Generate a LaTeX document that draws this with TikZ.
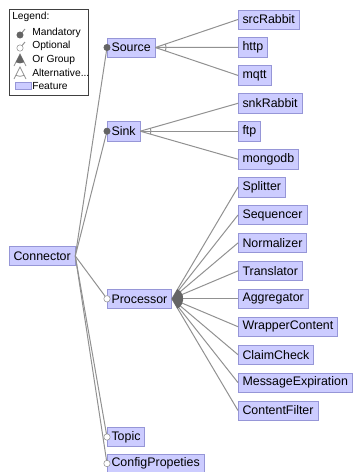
\documentclass[tikz,border=0pt]{standalone}
\usepackage{fontspec}
\setmainfont{Liberation Sans}
\usetikzlibrary{positioning}

\definecolor{featfill}{RGB}{204,204,255}
\definecolor{featline}{RGB}{150,150,215}
\definecolor{linkgray}{RGB}{145,145,145}
\definecolor{dotgray}{RGB}{100,100,100}

\begin{document}
\begin{tikzpicture}[x=0.75pt,y=-0.75pt,
        feature/.style={draw=featline, fill=featfill, anchor=west, minimum height=14.6pt, inner xsep=3.2pt, inner ysep=0pt, font=\fontsize{9.3}{11}\selectfont},
        legtext/.style={anchor=west, inner sep=0pt, font=\fontsize{7.7}{9}\selectfont},
        mand/.style={circle, fill=dotgray, draw=dotgray, inner sep=0pt, minimum size=4.8pt},
        opt/.style={circle, fill=white, draw=linkgray, inner sep=0pt, minimum size=4.8pt},
        link/.style={draw=linkgray, line width=0.75pt}]
        
        \useasboundingbox (0,0) rectangle (353,472);
        
        % legend
        \draw[draw=black!75, line width=0.5pt] (9,9) rectangle (88,95);
        \node[legtext] (legtitle) at (12,17) {Legend:};
        \node[legtext] (lmand) at (32,33) {Mandatory};
        \node[legtext] (lopt) at (32,46) {Optional};
        \node[legtext] (lor) at (32,60) {Or Group};
        \node[legtext] (lalt) at (32,73) {Alternative...};
        \node[legtext] (lfeat) at (32,86) {Feature};
        
        \coordinate (lmandtip) at (25,29);
        \coordinate (lopttip) at (25,42);
        \draw[link] (lmandtip) -- (20,35);
        \node[mand] (lmanddot) at (20,35) {};
        \draw[link] (lopttip) -- (20,48);
        \node[opt] (loptdot) at (20,48) {};
        
        \coordinate (lorapex) at (20,54);
        \coordinate (lorleft) at (14,66);
        \coordinate (lorright) at (26,66);
        \draw[link, line width=0.6pt] (lorleft) -- (lorapex) -- (lorright);
        \fill[dotgray] (lorapex) -- ++(243.4:7pt) arc[start angle=243.4, end angle=296.6, radius=7pt] -- cycle;
        
        \coordinate (laltapex) at (20,67);
        \coordinate (laltleft) at (14,79);
        \coordinate (laltright) at (26,79);
        \draw[link, line width=0.6pt] (laltleft) -- (laltapex) -- (laltright);
        \draw[link, line width=0.6pt] ([shift={(243.4:7pt)}]laltapex) arc[start angle=243.4, end angle=296.6, radius=7pt];
        
        \draw[draw=featline, fill=featfill] (15,82) rectangle (31,89);
        
        % features
        \node[feature] (Connector) at (9,256) {Connector};
        
        \node[feature] (Source) at (107,47.5) {Source};
        \node[feature] (Sink) at (107,131.2) {Sink};
        \node[feature] (Processor) at (107,298.8) {Processor};
        \node[feature] (Topic) at (107,437) {Topic};
        \node[feature] (ConfigPropeties) at (107,463.5) {ConfigPropeties};
        
        \node[feature] (srcRabbit) at (238,19.5) {srcRabbit};
        \node[feature] (http) at (238,47.4) {http};
        \node[feature] (mqtt) at (238,75.4) {mqtt};
        
        \node[feature] (snkRabbit) at (238,103.3) {snkRabbit};
        \node[feature] (ftp) at (238,131.2) {ftp};
        \node[feature] (mongodb) at (238,159.2) {mongodb};
        
        \node[feature] (Splitter) at (238,187.1) {Splitter};
        \node[feature] (Sequencer) at (238,215) {Sequencer};
        \node[feature] (Normalizer) at (238,242.9) {Normalizer};
        \node[feature] (Translator) at (238,270.9) {Translator};
        \node[feature] (Aggregator) at (238,298.8) {Aggregator};
        \node[feature] (WrapperContent) at (238,326.7) {WrapperContent};
        \node[feature] (ClaimCheck) at (238,354.7) {ClaimCheck};
        \node[feature] (MessageExpiration) at (238,382.6) {MessageExpiration};
        \node[feature] (ContentFilter) at (238,410.5) {ContentFilter};
        
        % Connector children
        \draw[link] (Connector.east) -- (Source.west);
        \draw[link] (Connector.east) -- (Sink.west);
        \draw[link] (Connector.east) -- (Processor.west);
        \draw[link] (Connector.east) -- (Topic.west);
        \draw[link] (Connector.east) -- (ConfigPropeties.west);
        
        \node[mand] (srcdot) at (Source.west) {};
        \node[mand] (snkdot) at (Sink.west) {};
        \node[opt] (procdot) at (Processor.west) {};
        \node[opt] (topicdot) at (Topic.west) {};
        \node[opt] (cfgdot) at (ConfigPropeties.west) {};
        
        % Source alternative
        \draw[link] (Source.east) -- (srcRabbit.west);
        \draw[link] (Source.east) -- (http.west);
        \draw[link] (Source.east) -- (mqtt.west);
        \draw[link] ([shift={(19.2:8pt)}]Source.east) arc[start angle=19.2, end angle=-19.2, radius=8pt];
        
        % Sink alternative
        \draw[link] (Sink.east) -- (snkRabbit.west);
        \draw[link] (Sink.east) -- (ftp.west);
        \draw[link] (Sink.east) -- (mongodb.west);
        \draw[link] ([shift={(16.2:8pt)}]Sink.east) arc[start angle=16.2, end angle=-16.2, radius=8pt];
        
        % Processor or group
        \draw[link] (Processor.east) -- (Splitter.west);
        \draw[link] (Processor.east) -- (Sequencer.west);
        \draw[link] (Processor.east) -- (Normalizer.west);
        \draw[link] (Processor.east) -- (Translator.west);
        \draw[link] (Processor.east) -- (Aggregator.west);
        \draw[link] (Processor.east) -- (WrapperContent.west);
        \draw[link] (Processor.east) -- (ClaimCheck.west);
        \draw[link] (Processor.east) -- (MessageExpiration.west);
        \draw[link] (Processor.east) -- (ContentFilter.west);
        \fill[dotgray] (Processor.east) -- ++(61:8.5pt) arc[start angle=61, end angle=-61, radius=8.5pt] -- cycle;
        
\end{tikzpicture}
\end{document}
